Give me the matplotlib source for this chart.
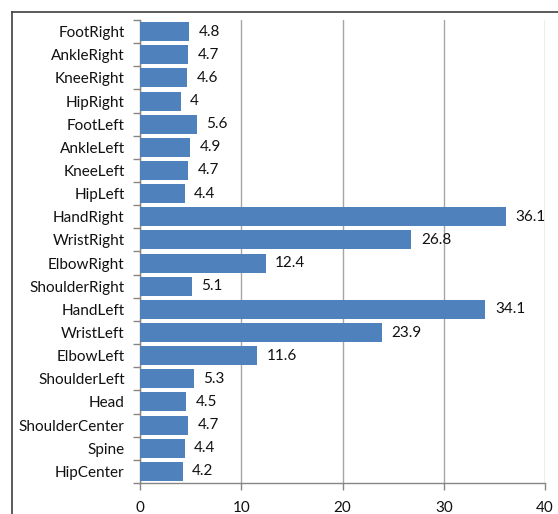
import numpy as np
import matplotlib
matplotlib.use("Agg")
import matplotlib.pyplot as plt
from matplotlib.lines import Line2D

joints = ["FootRight", "AnkleRight", "KneeRight", "HipRight", "FootLeft",
          "AnkleLeft", "KneeLeft", "HipLeft", "HandRight", "WristRight",
          "ElbowRight", "ShoulderRight", "HandLeft", "WristLeft", "ElbowLeft",
          "ShoulderLeft", "Head", "ShoulderCenter", "Spine", "HipCenter"]
values = [4.8, 4.7, 4.6, 4, 5.6, 4.9, 4.7, 4.4, 36.1, 26.8,
          12.4, 5.1, 34.1, 23.9, 11.6, 5.3, 4.5, 4.7, 4.4, 4.2]
x_ticks = [0, 10, 20, 30, 40]

plt.rcParams['font.family'] = ['Lato', 'DejaVu Sans']

W, H = 558, 514
fig = plt.figure(figsize=(W / 100, H / 100), dpi=100)
ax = fig.add_axes([140 / W, 1 - 483 / H, 405 / W, 463 / H])

pos = np.arange(len(joints))
ax.barh(pos, values, height=0.82, color="#4F81BD", zorder=3)
ax.set_ylim(len(joints) - 0.5, -0.5)
ax.set_xlim(0, 40)

fs = 11
for y, v in zip(pos, values):
    ax.annotate(f"{v:g}", (v, y), xytext=(7, 0), textcoords="offset points",
                va="center", ha="left", fontsize=fs, color="#111111")

axis_grey = "#868686"
ax.set_yticks(pos)
ax.set_yticklabels(joints, fontsize=fs, color="#111111")
ax.set_yticks(np.arange(len(joints) + 1) - 0.5, minor=True)
ax.tick_params(axis="y", which="major", length=0, pad=11)
ax.tick_params(axis="y", which="minor", length=5, color=axis_grey, width=1)

ax.set_xticks(x_ticks)
ax.tick_params(axis="x", length=5, color=axis_grey, width=1, pad=8,
               labelsize=fs, labelcolor="#111111")
ax.grid(axis="x", color="#A6A6A6", linewidth=1, zorder=0)

for side in ("top", "right"):
    ax.spines[side].set_visible(False)
for side in ("left", "bottom"):
    ax.spines[side].set_color(axis_grey)
    ax.spines[side].set_linewidth(1)

# outer chart border (left and top edges)
x0 = 12 / W
y0 = 1 - 12 / H
fig.add_artist(Line2D([x0, x0], [0, y0], color="#404040", lw=1.2))
fig.add_artist(Line2D([x0, 1], [y0, y0], color="#404040", lw=1.2))

fig.savefig("out.png", dpi=100)
